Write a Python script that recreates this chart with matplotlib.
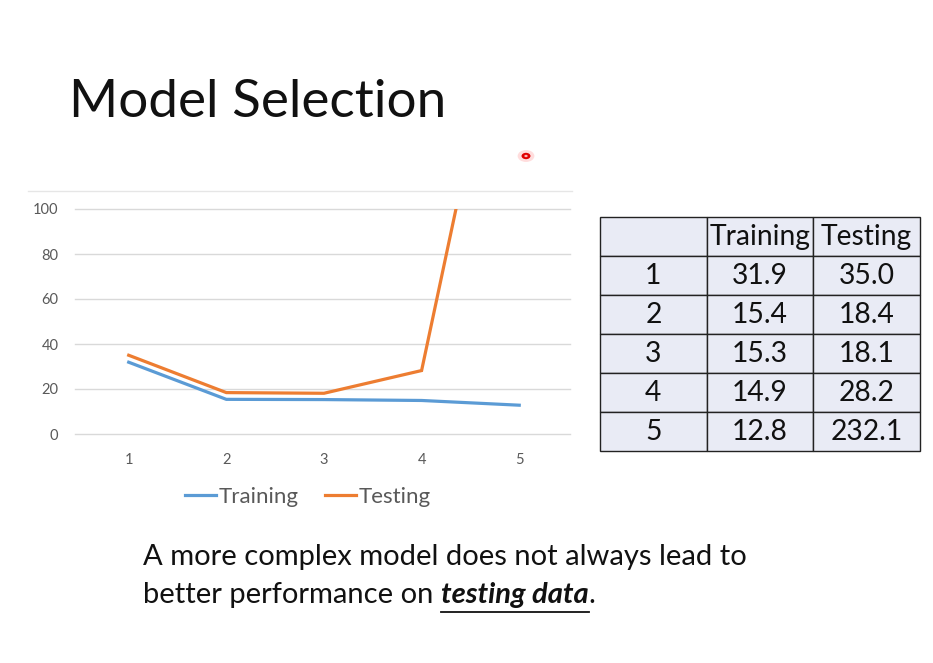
import matplotlib
matplotlib.use("Agg")
import matplotlib.pyplot as plt
from matplotlib.lines import Line2D

# data
models = [1, 2, 3, 4, 5]
training = [31.9, 15.4, 15.3, 14.9, 12.8]
testing = [35.0, 18.4, 18.1, 28.2, 232.1]
yticks = [0, 20, 40, 60, 80, 100]
col_labels = ["", "Training", "Testing"]

plt.rcParams['font.family'] = ['Lato', 'DejaVu Sans']

W, H = 933, 663
fig = plt.figure(figsize=(W / 100, H / 100), dpi=100)
fig.patch.set_facecolor("white")


def fx(px):
    return px / W


def fy(py):
    return 1 - py / H


# titre
fig.text(fx(69), fy(117), "Model Selection", fontsize=38.2, color="#111111",
         fontweight="normal", ha="left", va="baseline")

# graphique
ax = fig.add_axes([fx(75), fy(434), fx(570) - fx(75), fy(209) - fy(434)])
ax.plot(models, training, color="#5B9BD5", linewidth=2.3, solid_joinstyle="miter")
ax.plot(models, testing, color="#ED7D31", linewidth=2.3, solid_joinstyle="miter")
ax.set_xlim(0.45, 5.52)
ax.set_ylim(0, 100)
ax.set_yticks(yticks)
ax.set_xticks(models)
ax.grid(axis="y", color="#D9D9D9", linewidth=1, clip_on=False)
ax.set_axisbelow(True)
for s in ax.spines.values():
    s.set_visible(False)
ax.tick_params(length=0, labelsize=10.5, labelcolor="#595959")
ax.tick_params(axis="y", pad=12)
ax.tick_params(axis="x", pad=14)

# ligne du cadre en haut
fig.add_artist(Line2D([fx(28), fx(572)], [fy(191), fy(191)], color="#E6E6E6", linewidth=1))

# légende
handles = [Line2D([], [], color="#5B9BD5", linewidth=2.3),
           Line2D([], [], color="#ED7D31", linewidth=2.3)]
fig.legend(handles, ["Training", "Testing"], loc="center", ncol=2,
           bbox_to_anchor=(fx(308), fy(497)), frameon=False, fontsize=16,
           labelcolor="#595959", handlelength=1.4, handletextpad=0.1,
           columnspacing=1.2)

# tableau
cells = [[str(m), f"{a:.1f}", f"{b:.1f}"] for m, a, b in zip(models, training, testing)]
tax = fig.add_axes([fx(600), fy(451), fx(920) - fx(600), fy(217) - fy(451)])
tax.axis("off")
tbl = tax.table(cellText=[col_labels] + cells, cellLoc="center", loc="center",
                bbox=[0, 0, 1, 1])
tbl.auto_set_font_size(False)
for (r, c), cell in tbl.get_celld().items():
    cell.set_facecolor("#E9EBF5")
    cell.set_edgecolor("#222222")
    cell.set_linewidth(1.0)
    cell.get_text().set_fontsize(20.3)
    cell.get_text().set_color("#111111")
    cell.PAD = 0.02

# texte du bas
fs = 21
fig.text(fx(143), fy(565), "A more complex model does not always lead to",
         fontsize=fs, color="#111111", ha="left", va="baseline")
t1 = fig.text(fx(143), fy(603), "better performance on ", fontsize=fs,
              color="#111111", ha="left", va="baseline")
r = fig.canvas.get_renderer()
x1 = t1.get_window_extent(r).x1
t2 = fig.text(x1 / W, fy(603), "testing data", fontsize=fs, color="#111111",
              fontweight="bold", fontstyle="italic", ha="left", va="baseline")
e2 = t2.get_window_extent(r)
fig.text(e2.x1 / W, fy(603), ".", fontsize=fs, color="#111111",
         ha="left", va="baseline")
fig.add_artist(Line2D([e2.x0 / W, e2.x1 / W], [fy(612), fy(612)],
                      color="#111111", linewidth=1.3))

# point du pointeur laser
fig.add_artist(plt.Circle((fx(526), fy(156)), 0.009, transform=fig.transFigure,
                          color="#FF9090", alpha=0.3, linewidth=0))
fig.add_artist(plt.Circle((fx(526), fy(156)), 0.0048, transform=fig.transFigure,
                          color="#E00000", linewidth=0))
fig.add_artist(plt.Circle((fx(526), fy(156)), 0.0018, transform=fig.transFigure,
                          color="#FFB0B0", linewidth=0))

fig.savefig("out.png", dpi=100, facecolor="white")
